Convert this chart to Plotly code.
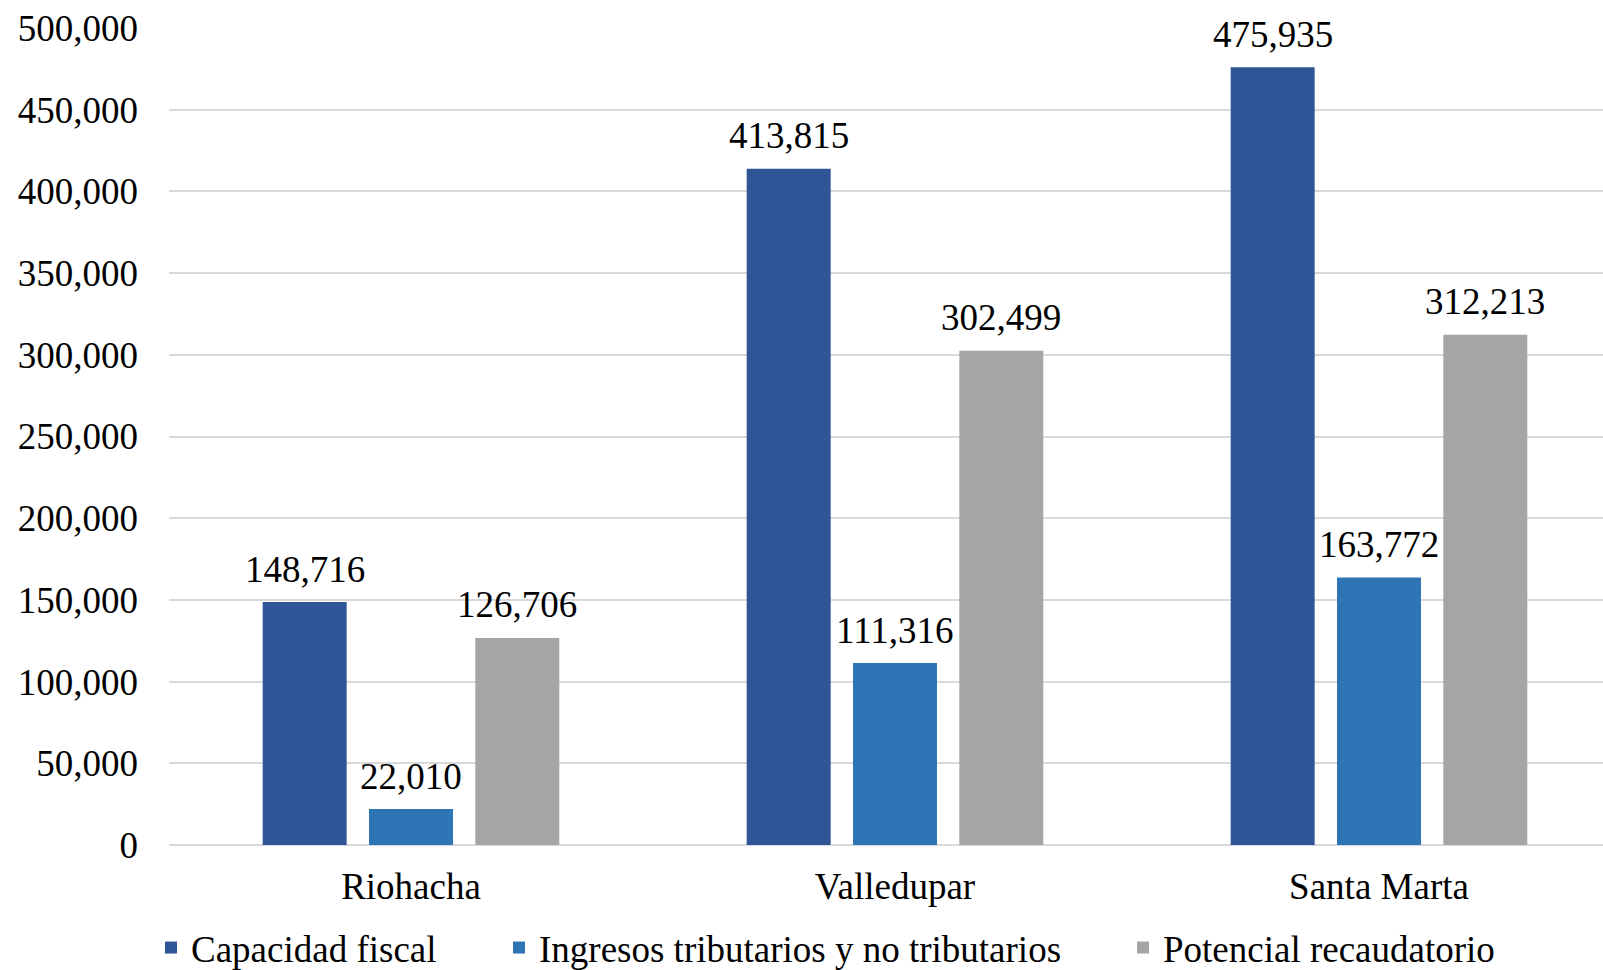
import plotly.graph_objects as go

categories = ["Riohacha", "Valledupar", "Santa Marta"]
series_names = ["Capacidad fiscal", "Ingresos tributarios y no tributarios", "Potencial recaudatorio"]
capacidad_fiscal = [148716, 413815, 475935]
ingresos = [22010, 111316, 163772]
potencial = [126706, 302499, 312213]
y_ticks = [0, 50000, 100000, 150000, 200000, 250000, 300000, 350000, 400000, 450000, 500000]

series_values = [capacidad_fiscal, ingresos, potencial]
colors = ["#2F5597", "#2E75B6", "#A5A5A5"]

FONT = "Liberation Serif"
FS = 37
BARGAP = 0.341
BARGROUPGAP = 0.21
slot = (1 - BARGAP) / 3

xpos = list(range(len(categories)))

fig = go.Figure()
legend_ids = ["legend", "legend2", "legend3"]
for j, (name, vals, col) in enumerate(zip(series_names, series_values, colors)):
    fig.add_trace(go.Bar(
        x=xpos, y=vals, name=name, marker=dict(color=col, line=dict(width=0)),
        legend=legend_ids[j], hoverinfo="skip",
    ))
    for i, v in enumerate(vals):
        fig.add_annotation(
            x=xpos[i] + (j - 1) * slot, y=v, xref="x", yref="y",
            text=f"{v:,}", showarrow=False, yanchor="middle", yshift=33,
            font=dict(family=FONT, size=FS, color="black"),
        )

W, H = 1603, 970
L, T, B = 169, 28, 125
legend_px = [151, 499, 1123]
layout_legends = {}
for lid, px in zip(legend_ids, legend_px):
    layout_legends[lid] = dict(
        orientation="h", xref="container", yref="container",
        x=px / W, xanchor="left", y=1 - 948 / H, yanchor="middle",
        font=dict(family=FONT, size=FS, color="black"),
        bgcolor="rgba(0,0,0,0)", itemclick=False,
    )

fig.update_layout(
    width=W, height=H,
    margin=dict(l=L, r=0, t=T, b=B, autoexpand=False),
    paper_bgcolor="white", plot_bgcolor="white",
    barmode="group", bargap=BARGAP, bargroupgap=BARGROUPGAP,
    font=dict(family=FONT, size=FS, color="black"),
    showlegend=True,
    **layout_legends,
)
fig.update_xaxes(
    tickvals=xpos, ticktext=categories, range=[-0.5, -0.5 + (W - L) / 484],
    showgrid=False, zeroline=False, showline=False, ticks="",
    tickfont=dict(family=FONT, size=FS, color="black"), ticklabelstandoff=16,
)
fig.update_yaxes(
    range=[0, 500000], tickvals=y_ticks, tickformat=",",
    showgrid=True, gridcolor="#D9D9D9", gridwidth=2,
    zeroline=True, zerolinecolor="#D9D9D9", zerolinewidth=2,
    showline=False, ticks="",
    tickfont=dict(family=FONT, size=FS, color="black"), ticklabelstandoff=30,
)

fig.write_html(
    "out.html",
    config={"displayModeBar": False},
    post_script="document.body.style.margin='0px';document.body.style.overflow='hidden';",
)
